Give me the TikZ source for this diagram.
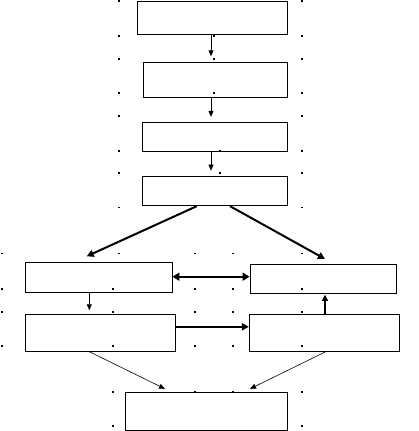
\documentclass[tikz,border=0pt]{standalone}
\usetikzlibrary{arrows.meta}
\begin{document}
\begin{tikzpicture}[x=1pt,y=-1pt,
  box/.style={draw,line width=0.8pt,rectangle,inner sep=0pt},
  thinarr/.style={line width=0.6pt,-{Triangle[length=6pt,width=5pt]}},
  midarr/.style={line width=1.1pt,-{Triangle[length=6pt,width=6pt]}},
  thickarr/.style={line width=2pt,-{Triangle[length=7pt,width=7pt]}},
  dblarr/.style={line width=2.2pt,{Triangle[length=7pt,width=8pt]}-{Triangle[length=7pt,width=8pt]}},
  gdot/.style={fill=black}]
\useasboundingbox (0,0) rectangle (418,431);
\node[box,minimum width=150pt,minimum height=33pt] (b1) at (212.3,17.5) {};
\node[box,minimum width=144pt,minimum height=34.6pt] (b2) at (215.3,80) {};
\node[box,minimum width=145pt,minimum height=29pt] (b3) at (214.8,136.8) {};
\node[box,minimum width=145pt,minimum height=29.7pt] (b4) at (214.8,190.9) {};
\node[box,minimum width=146.7pt,minimum height=30pt] (b5) at (98.7,277.7) {};
\node[box,minimum width=146.7pt,minimum height=29.3pt] (b6) at (323.3,278.7) {};
\node[box,minimum width=150pt,minimum height=37.7pt] (b7) at (100.3,332.8) {};
\node[box,minimum width=150pt,minimum height=37.7pt] (b8) at (324.3,332.8) {};
\node[box,minimum width=162.3pt,minimum height=37.3pt] (b9) at (206.2,411.3) {};
% connectors
\draw[thinarr] ([xshift=-1.3pt]b1.south) -- ([xshift=-1.3pt,yshift=6pt]b1.south |- b2.north);
\draw[thinarr] ([xshift=-4.3pt]b2.south) -- ([xshift=-4.3pt,yshift=5pt]b2.south |- b3.north);
\draw[thinarr] ([xshift=-3.8pt]b3.south) -- ([xshift=-3.8pt,yshift=5pt]b3.south |- b4.north);
\draw[thickarr] ([xshift=-18pt]b4.south) -- ([xshift=-12pt,yshift=6pt]b5.north);
\draw[thickarr] ([xshift=15.2pt]b4.south) -- ([xshift=1.7pt,yshift=4.7pt]b6.north);
\draw[dblarr] ([yshift=1pt]b5.east) -- ([yshift=2pt]b6.west);
\draw[thinarr] ([xshift=-9.4pt]b5.south) -- ([xshift=-9.4pt,yshift=3.3pt]b5.south |- b7.north);
\draw[midarr] ([xshift=0.7pt]b8.north) -- ([xshift=0.7pt,yshift=-1pt]b8.north |- b6.south);
\draw[thickarr] ([yshift=6pt]b7.east) -- ([yshift=6pt]b8.west);
\draw[thinarr] ([xshift=-10.3pt]b7.south) -- ([xshift=-41.2pt,yshift=3.4pt]b9.north);
\draw[thinarr] ([xshift=0.7pt]b8.south) -- ([xshift=43.8pt,yshift=3.4pt]b9.north);
% scattered dots
\foreach \x/\y in {119/1,302/1,119/35.7,214/35.7,302/35.7,119/59,214/59,302/59,
  119/92.7,214/92.7,302/92.7,119/115.7,302/115.7,119/150.7,220/150.7,302/150.7,
  119/172.7,220/172.7,302/172.7,119/207.3,302/207.3,
  2/253.3,119/253.3,195/253.3,233/253.3,302/253.3,
  2/289,113/289,195/289,233/289,302/289,
  2/311.7,113/311.7,195/311.7,233/311.7,302/311.7,
  2/345.7,113/345.7,195/345.7,233/345.7,302/345.7,
  113/391.7,195/391.7,233/391.7,302/391.7,113/426,302/426}
  \fill[gdot] (\x-0.8,\y-0.8) rectangle (\x+0.8,\y+0.8);
\end{tikzpicture}
\end{document}
